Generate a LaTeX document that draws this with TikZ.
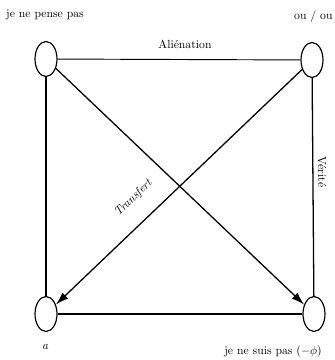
\documentclass[tikz,border=0pt]{standalone}
\usepackage{tikz}
\usetikzlibrary{shapes.geometric, arrows.meta, positioning}

\begin{document}
\begin{tikzpicture}[x=0.03cm, y=-0.03cm,
    pole/.style={draw, ellipse, line width=1pt, minimum width=0.66cm, minimum height=1.05cm, inner sep=0pt},
    edge/.style={line width=1.1pt},
    arrow/.style={line width=1.1pt, -{Latex[length=11pt,width=7pt]}},
    lbl/.style={font=\normalsize, inner sep=1pt}]
            \useasboundingbox (0,0) rectangle (335,360);
            % the four poles
            \node[pole] (tl) at (46,59)  {};
            \node[pole] (tr) at (312,60) {};
            \node[pole] (bl) at (46,314) {};
            \node[pole] (br) at (314,314) {};
            % sides
            \draw[edge, line width=0.8pt] (tl) -- (tr);
            \draw[edge] (tl) -- (bl);
            \draw[edge] (tr) -- (br);
            \draw[edge, line width=2.2pt] (bl) -- (br);
            % diagonals
            \draw[arrow] (tl) -- (br);
            \draw[arrow] (tr) -- (bl);
            % labels
            \node[lbl] (t1) at (45,15)  {je ne pense pas};
            \node[lbl, anchor=east] (t2) at (334,17) {ou / ou};
            \node[lbl] (t3) at (185,44) {Aliénation};
            \node[lbl, rotate=-90] (t4) at (322,172) {Vérité};
            \node[lbl, font=\itshape, rotate=44, anchor=south] (t5) at (138,203) {Transfert};
            \node[lbl, font=\itshape] (t6) at (45,347) {a};
            \node[lbl] (t7) at (273,352) {je ne suis pas $(-\phi)$};
        \end{tikzpicture}
\end{document}
